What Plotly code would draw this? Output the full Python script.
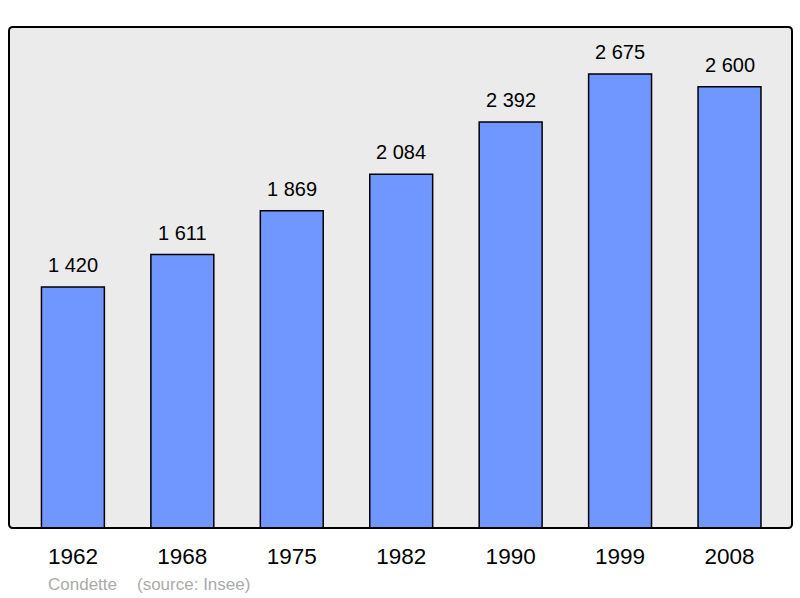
import plotly.graph_objects as go

years = ["1962", "1968", "1975", "1982", "1990", "1999", "2008"]
population = [1420, 1611, 1869, 2084, 2392, 2675, 2600]
labels = ["1 420", "1 611", "1 869", "2 084", "2 392", "2 675", "2 600"]

W, H = 800, 598
ml, mt = 9, 27
pw, ph = 783, 501
mr, mb = W - ml - pw, H - mt - ph

FONT = "Liberation Sans, Arial, sans-serif"

fig = go.Figure()
fig.add_trace(go.Bar(
    x=list(range(len(years))), y=population, width=0.575,
    marker=dict(color="#7097ff", line=dict(color="#000000", width=1.5)),
    hoverinfo="skip",
))

for i, (v, t) in enumerate(zip(population, labels)):
    fig.add_annotation(x=i, y=v, text=t, showarrow=False, yanchor="bottom",
                       yshift=9, font=dict(size=20, color="#000000", family=FONT))

# frame with slightly rounded corners
r = 4
rx, ry = r / pw, r / ph
path = (f"M {rx},0 L {1-rx},0 Q 1,0 1,{ry} L 1,{1-ry} Q 1,1 {1-rx},1 "
        f"L {rx},1 Q 0,1 0,{1-ry} L 0,{ry} Q 0,0 {rx},0 Z")
fig.add_shape(type="path", path=path, xref="paper", yref="paper",
              line=dict(color="#000000", width=2), layer="above")

foot_y = -(584 - mt - ph) / ph
fig.add_annotation(x=(46 - ml) / pw, y=foot_y, xref="paper", yref="paper",
                   text="Condette", showarrow=False, xanchor="left", yanchor="middle",
                   font=dict(size=17, color="#aaaaaa", family=FONT))
fig.add_annotation(x=(135 - ml) / pw, y=foot_y, xref="paper", yref="paper",
                   text="(source: Insee)", showarrow=False, xanchor="left", yanchor="middle",
                   font=dict(size=17, color="#aaaaaa", family=FONT))

fig.update_layout(
    width=W, height=H,
    margin=dict(l=ml, r=mr, t=mt, b=mb, pad=0),
    paper_bgcolor="#ffffff", plot_bgcolor="#ebebeb",
    showlegend=False,
    font=dict(family=FONT, color="#000000"),
    xaxis=dict(range=[-0.584, 6.571], showgrid=False, zeroline=False,
               showline=False, ticks="", ticklabelstandoff=12,
               tickmode="array", tickvals=list(range(len(years))), ticktext=years,
               tickfont=dict(size=22.5, color="#000000")),
    yaxis=dict(range=[0, 2952], showgrid=False, zeroline=False, showline=False,
               showticklabels=False, ticks=""),
)

fig.write_html("out.html", config={"displayModeBar": False},
               post_script="document.body.style.margin='0';document.body.style.overflow='hidden';")
